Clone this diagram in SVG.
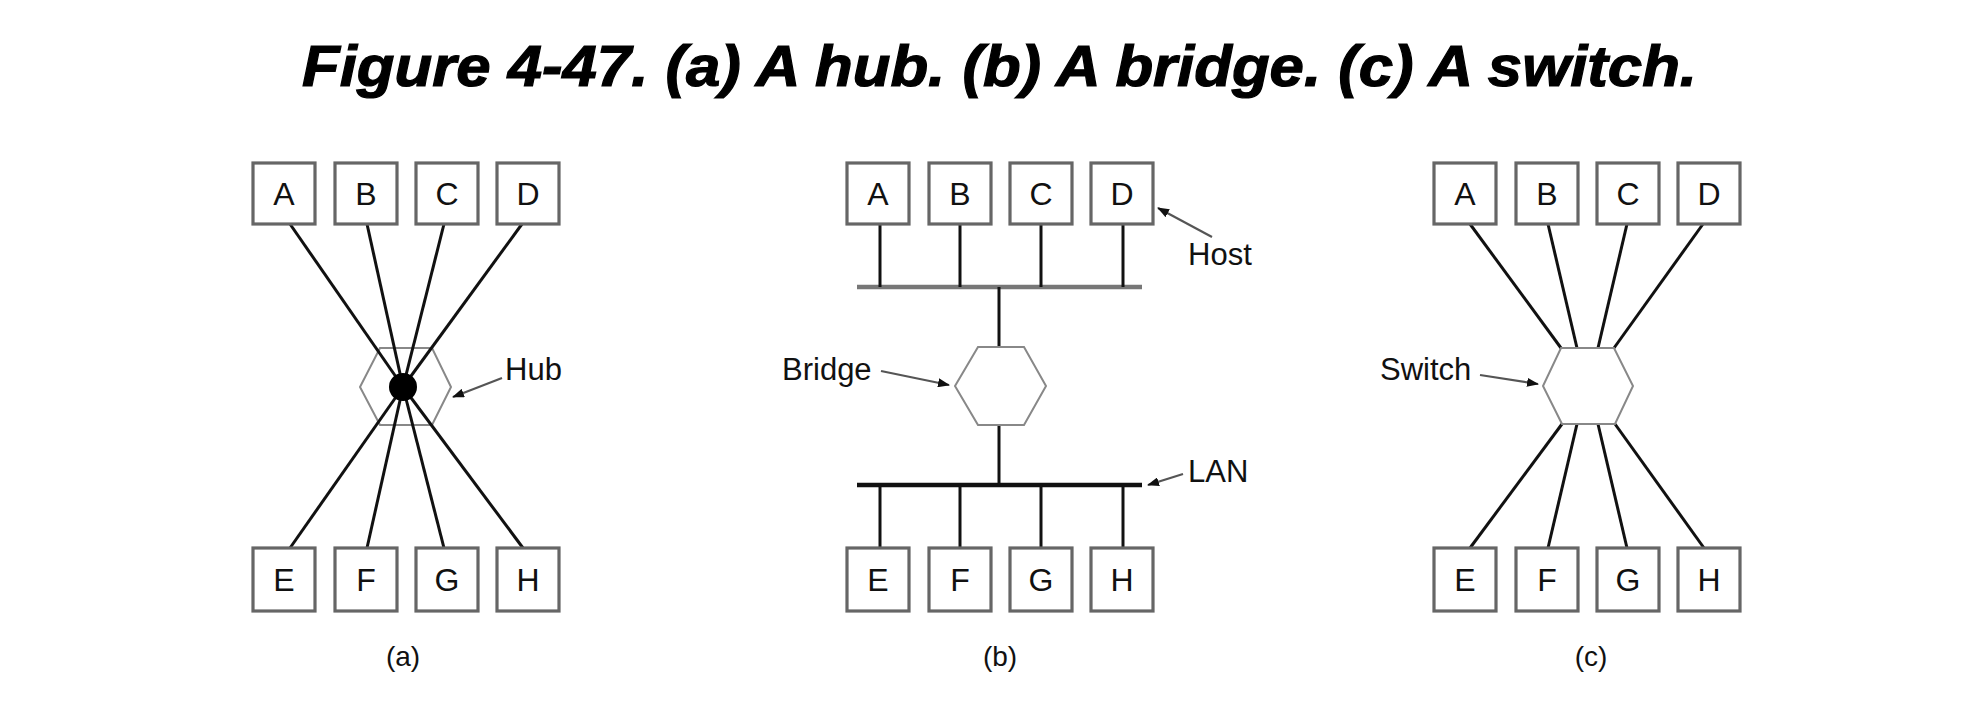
<svg xmlns="http://www.w3.org/2000/svg" width="1974" height="728" viewBox="0 0 1974 728">
<style>
.box{fill:#fff;stroke:#666;stroke-width:3.2}
.lbl{font-family:"Liberation Sans",Arial,sans-serif;font-size:32px;fill:#111;text-anchor:middle}
.note{font-family:"Liberation Sans",Arial,sans-serif;font-size:31px;fill:#111}
.cap{font-family:"Liberation Sans",Arial,sans-serif;font-size:28px;fill:#111;text-anchor:middle}
.ln{stroke:#111;stroke-width:3;fill:none}
.hex{fill:#fff;stroke:#888;stroke-width:2}
.bus{stroke-width:4.5;fill:none}
.ptr{stroke:#555;stroke-width:2.2;fill:none;marker-end:url(#ah)}
</style>
<defs>
<marker id="ah" markerWidth="12" markerHeight="9" refX="11" refY="4.5" orient="auto" markerUnits="userSpaceOnUse" viewBox="0 0 12 9">
<path d="M0,0 L12,4.5 L0,9 Z" fill="#111"/>
</marker>
</defs>
<rect width="1974" height="728" fill="#fff"/>
<text x="302" y="86" font-family="'Liberation Sans',Arial,sans-serif" font-weight="bold" font-style="italic" font-size="58" textLength="1395" lengthAdjust="spacingAndGlyphs" fill="#000" stroke="#000" stroke-width="1.2">Figure 4-47. (a) A hub. (b) A bridge. (c) A switch.</text>

<!-- Panel a -->
<g id="a-hub">
<polygon points="380,348 432,348 451,387 432,425 380,425 360,387" fill="#fff" stroke="#888" stroke-width="2"/>
</g>
<g id="connectors-a">
<line class="ln" x1="290" y1="224" x2="403" y2="387"/>
<line class="ln" x1="367" y1="224" x2="403" y2="387"/>
<line class="ln" x1="444" y1="224" x2="403" y2="387"/>
<line class="ln" x1="522" y1="224" x2="403" y2="387"/>
<line class="ln" x1="290" y1="548" x2="403" y2="387"/>
<line class="ln" x1="367" y1="548" x2="403" y2="387"/>
<line class="ln" x1="444" y1="548" x2="403" y2="387"/>
<line class="ln" x1="523" y1="548" x2="403" y2="387"/>
<line class="ptr" x1="502" y1="378" x2="453" y2="397"/>
</g>
<g id="a-hub-dot">
<circle cx="403" cy="387" r="14" fill="#000"/>
<text class="note" x="505" y="380">Hub</text>
</g>
<g id="a-A"><rect class="box" x="253" y="163" width="62" height="61"/><text class="lbl" x="284" y="205">A</text></g>
<g id="a-B"><rect class="box" x="335" y="163" width="62" height="61"/><text class="lbl" x="366" y="205">B</text></g>
<g id="a-C"><rect class="box" x="416" y="163" width="62" height="61"/><text class="lbl" x="447" y="205">C</text></g>
<g id="a-D"><rect class="box" x="497" y="163" width="62" height="61"/><text class="lbl" x="528" y="205">D</text></g>
<g id="a-E"><rect class="box" x="253" y="548" width="62" height="63"/><text class="lbl" x="284" y="591">E</text></g>
<g id="a-F"><rect class="box" x="335" y="548" width="62" height="63"/><text class="lbl" x="366" y="591">F</text></g>
<g id="a-G"><rect class="box" x="416" y="548" width="62" height="63"/><text class="lbl" x="447" y="591">G</text></g>
<g id="a-H"><rect class="box" x="497" y="548" width="62" height="63"/><text class="lbl" x="528" y="591">H</text></g>
<text class="cap" x="403" y="666">(a)</text>

<!-- Panel b -->
<g id="connectors-b">
<line class="bus" stroke="#777" x1="857" y1="287" x2="1142" y2="287"/>
<line class="bus" stroke="#111" x1="857" y1="485" x2="1142" y2="485"/>
<line class="ln" x1="880" y1="224" x2="880" y2="287"/>
<line class="ln" x1="960" y1="224" x2="960" y2="287"/>
<line class="ln" x1="1041" y1="224" x2="1041" y2="287"/>
<line class="ln" x1="1123" y1="224" x2="1123" y2="287"/>
<line class="ln" x1="999" y1="287" x2="999" y2="347"/>
<line class="ln" x1="999" y1="425" x2="999" y2="485"/>
<line class="ln" x1="880" y1="485" x2="880" y2="548"/>
<line class="ln" x1="960" y1="485" x2="960" y2="548"/>
<line class="ln" x1="1041" y1="485" x2="1041" y2="548"/>
<line class="ln" x1="1123" y1="485" x2="1123" y2="548"/>
<line class="ptr" x1="1212" y1="237" x2="1158" y2="208"/>
<line class="ptr" x1="881" y1="371" x2="949" y2="385"/>
<line class="ptr" x1="1183" y1="474" x2="1148" y2="485"/>
</g>
<g id="b-bridge"><polygon class="hex" points="978,347 1024,347 1046,386 1024,425 978,425 955,386"/></g>
<g id="b-A"><rect class="box" x="847" y="163" width="62" height="61"/><text class="lbl" x="878" y="205">A</text></g>
<g id="b-B"><rect class="box" x="929" y="163" width="62" height="61"/><text class="lbl" x="960" y="205">B</text></g>
<g id="b-C"><rect class="box" x="1010" y="163" width="62" height="61"/><text class="lbl" x="1041" y="205">C</text></g>
<g id="b-D"><rect class="box" x="1091" y="163" width="62" height="61"/><text class="lbl" x="1122" y="205">D</text></g>
<g id="b-E"><rect class="box" x="847" y="548" width="62" height="63"/><text class="lbl" x="878" y="591">E</text></g>
<g id="b-F"><rect class="box" x="929" y="548" width="62" height="63"/><text class="lbl" x="960" y="591">F</text></g>
<g id="b-G"><rect class="box" x="1010" y="548" width="62" height="63"/><text class="lbl" x="1041" y="591">G</text></g>
<g id="b-H"><rect class="box" x="1091" y="548" width="62" height="63"/><text class="lbl" x="1122" y="591">H</text></g>
<g id="b-labels">
<text class="note" x="1188" y="265">Host</text>
<text class="note" x="782" y="380">Bridge</text>
<text class="note" x="1188" y="482">LAN</text>
</g>
<text class="cap" x="1000" y="666">(b)</text>

<!-- Panel c -->
<g id="connectors-c">
<line class="ln" x1="1470" y1="224" x2="1561" y2="348"/>
<line class="ln" x1="1548" y1="224" x2="1577" y2="348"/>
<line class="ln" x1="1627" y1="224" x2="1598" y2="348"/>
<line class="ln" x1="1703" y1="224" x2="1614" y2="348"/>
<line class="ln" x1="1562" y1="424" x2="1470" y2="548"/>
<line class="ln" x1="1577" y1="424" x2="1548" y2="548"/>
<line class="ln" x1="1598" y1="424" x2="1627" y2="548"/>
<line class="ln" x1="1615" y1="424" x2="1704" y2="548"/>
<line class="ptr" x1="1480" y1="375" x2="1538" y2="384"/>
</g>
<g id="c-switch"><polygon class="hex" points="1561,348 1614,348 1633,386 1615,424 1562,424 1543,386"/></g>
<g id="c-A"><rect class="box" x="1434" y="163" width="62" height="61"/><text class="lbl" x="1465" y="205">A</text></g>
<g id="c-B"><rect class="box" x="1516" y="163" width="62" height="61"/><text class="lbl" x="1547" y="205">B</text></g>
<g id="c-C"><rect class="box" x="1597" y="163" width="62" height="61"/><text class="lbl" x="1628" y="205">C</text></g>
<g id="c-D"><rect class="box" x="1678" y="163" width="62" height="61"/><text class="lbl" x="1709" y="205">D</text></g>
<g id="c-E"><rect class="box" x="1434" y="548" width="62" height="63"/><text class="lbl" x="1465" y="591">E</text></g>
<g id="c-F"><rect class="box" x="1516" y="548" width="62" height="63"/><text class="lbl" x="1547" y="591">F</text></g>
<g id="c-G"><rect class="box" x="1597" y="548" width="62" height="63"/><text class="lbl" x="1628" y="591">G</text></g>
<g id="c-H"><rect class="box" x="1678" y="548" width="62" height="63"/><text class="lbl" x="1709" y="591">H</text></g>
<text class="note" x="1380" y="380">Switch</text>
<text class="cap" x="1591" y="666">(c)</text>
</svg>
